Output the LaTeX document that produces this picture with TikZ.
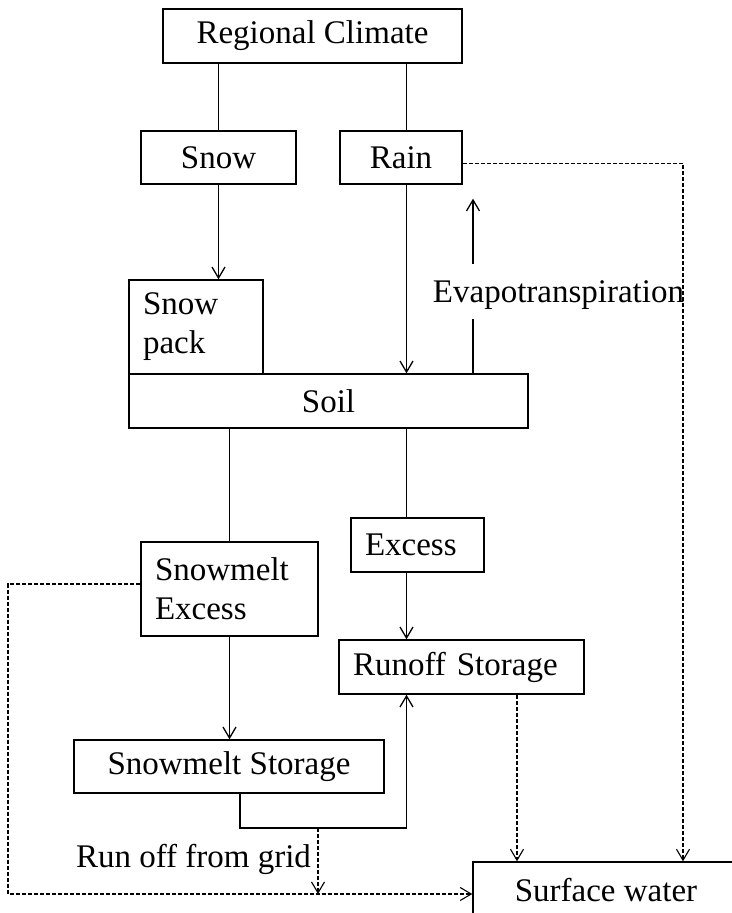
\documentclass[tikz,border=0pt]{standalone}
\usepackage{fontspec}
\setmainfont{Liberation Serif}
\usetikzlibrary{arrows.meta}

\begin{document}
\begin{tikzpicture}[x=1pt, y=-1pt, font=\fontsize{33}{39}\selectfont]
\useasboundingbox (0,0) rectangle (731,913);
\tikzset{box/.style={draw, line width=1.4pt, inner sep=0pt},
         lbox/.style={box, align=left, inner xsep=14pt},
         link/.style={line width=1.3pt},
         flow/.style={link, -{Straight Barb[length=11pt, width=13pt]}},
         spill/.style={line width=1.1pt, dash pattern=on 4pt off 2pt, -{Straight Barb[length=11pt, width=13pt]}}}
% ---- columns the connectors run along
\coordinate (colR) at (406.5,0);
\coordinate (colV) at (473,0);
\coordinate (colS) at (517,0);
\coordinate (colE) at (683,0);

% ---- precipitation
\node[box, minimum width=299pt, minimum height=54pt] (clim) at (312.5,36) {Regional Climate};
\node[box, minimum width=155pt, minimum height=53pt] (snow) at (218.5,157.5) {Snow};
\node[box, minimum width=122pt, minimum height=53pt] (rain) at (401,157.5) {Rain};
\draw[link] (snow.north |- clim.south) -- (snow.north);
\draw[link] (clim.south -| colR) -- (rain.north -| colR);

% ---- snow pack and soil
\node[lbox, text width=106pt, minimum height=94pt] (pack) at (196,327) {Snow\\pack};
\node[box, minimum width=399pt, minimum height=54pt] (soil) at (328.5,401) {Soil};
\draw[flow] (snow.south) -- (snow.south |- pack.north);
\draw[flow] (rain.south -| colR) -- (soil.north -| colR);

% ---- evapotranspiration back to the air
\node[inner xsep=0pt, inner ysep=10pt, anchor=base] (evap) at (558.5,302) {Evapotranspiration};
\draw[link] (soil.north -| colV) -- (evap.south -| colV);
\draw[flow, shorten <=6pt, shorten >=14pt] (evap.north -| colV) -- (rain.south -| colV);

% ---- excess water
\node[lbox, text width=149pt, minimum height=94pt] (smexcess) at (229.5,589) {Snowmelt\\Excess};
\node[lbox, text width=105pt, minimum height=54pt] (excess) at (417.5,545) {Excess};
\draw[link] (soil.south -| smexcess.north) -- (smexcess.north);
\draw[link] (soil.south -| colR) -- (excess.north -| colR);

% ---- storages
\node[box, minimum width=310pt, minimum height=53pt] (smstore) at (229,766.5) {Snowmelt Storage};
\node[lbox, text width=217pt, minimum height=54pt] (runoff) at (461.5,667) {Runoff Storage};
\draw[flow] (smexcess.south) -- (smexcess.south |- smstore.north);
\draw[flow] (excess.south -| colR) -- (runoff.north -| colR);
\coordinate (split) at (318,828);
\draw[flow] ([xshift=11pt]smstore.south) |- (split) -| (runoff.south -| colR);

% ---- surface water
\node[box, minimum width=266pt, minimum height=56pt] (surf) at (606,890) {Surface water};
\node[anchor=base] (gridlbl) at (193.5,867) {Run off from grid};
\coordinate (low) at (8,894);
\draw[spill] (split) -- (split |- low);
\draw[spill] ([yshift=5pt]smexcess.west) -| (low) -- (surf.west |- low);
\draw[spill] (runoff.south -| colS) -- (surf.north -| colS);
\draw[spill] ([yshift=-6pt]rain.east) -| (surf.north -| colE);
\end{tikzpicture}
\end{document}
